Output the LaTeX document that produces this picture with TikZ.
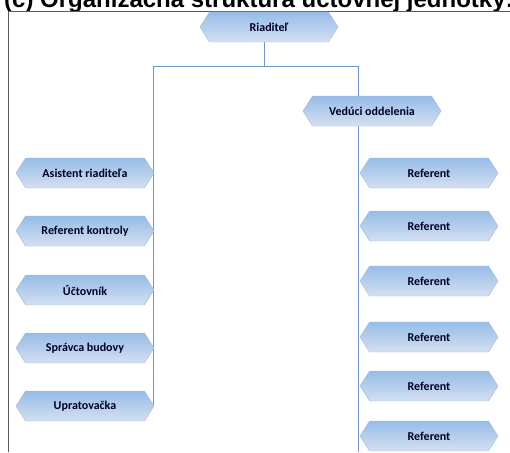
\documentclass[tikz,border=0pt]{standalone}
\usepackage{fontspec}
\setmainfont{Carlito}
\newfontfamily\titlefont{Liberation Sans}
\usetikzlibrary{shapes.symbols,backgrounds}

\definecolor{boxtop}{RGB}{150,188,232}
\definecolor{boxmid}{RGB}{188,207,232}
\definecolor{boxbot}{RGB}{212,224,240}
\definecolor{boxedge}{RGB}{160,185,218}
\definecolor{linkblue}{RGB}{110,150,205}
\definecolor{framegray}{RGB}{90,90,90}

\begin{document}
\begin{tikzpicture}[
  x=1pt, y=-1pt,
  hnode/.style={shape=signal,signal to=west and east,signal pointer angle=115,
    minimum width=138pt,minimum height=30pt,inner sep=2pt,
    draw=boxedge,line width=0.4pt,
    top color=boxtop,middle color=boxmid,bottom color=boxbot,
    font=\fontsize{12}{14}\selectfont\bfseries,text=black!85!blue},
  link/.style={draw=linkblue,line width=0.8pt}
]
  \useasboundingbox (0,0) rectangle (510,452);
  \clip (0,0) rectangle (510,452);

  % title and frame
  \node[anchor=base west,inner sep=0pt,font=\titlefont\bfseries\fontsize{24}{28}\selectfont] (title) at (4,7.5) {(c) Organizačná štruktúra účtovnej jednotky:};
  \draw[framegray,line width=0.8pt] (8,452) -- (8,11) -- (510,11);

  % top
  \node[hnode] (riad) at (269,27) {Riaditeľ};
  \node[hnode] (ved) at (372,111) {Vedúci oddelenia};

  % left column
  \node[hnode] (a1) at (85,173) {Asistent riaditeľa};
  \node[hnode] (a2) at (85,231) {Referent kontroly};
  \node[hnode] (a3) at (85,290) {Účtovník};
  \node[hnode] (a4) at (85,348) {Správca budovy};
  \node[hnode] (a5) at (85,406) {Upratovačka};

  % right column
  \node[hnode] (r1) at (429,173) {Referent};
  \node[hnode] (r2) at (429,226) {Referent};
  \node[hnode] (r3) at (429,281) {Referent};
  \node[hnode] (r4) at (429,337) {Referent};
  \node[hnode] (r5) at (429,386) {Referent};
  \node[hnode] (r6) at (429,436) {Referent};

  % lines
  \coordinate (j0) at (264,66);
  \coordinate (jl) at (153,66);
  \coordinate (jr) at (358,66);
  \coordinate (jb) at (358,452);
  \begin{pgfonlayer}{background}
    \draw[link] (riad.south -| j0) -- (j0);
    \draw[link] (jl) -- (jr);
    \draw[link] (jl) -- (jl |- a5.east);
    \draw[link] (jr) -- (jb);
  \end{pgfonlayer}
\end{tikzpicture}
\end{document}
